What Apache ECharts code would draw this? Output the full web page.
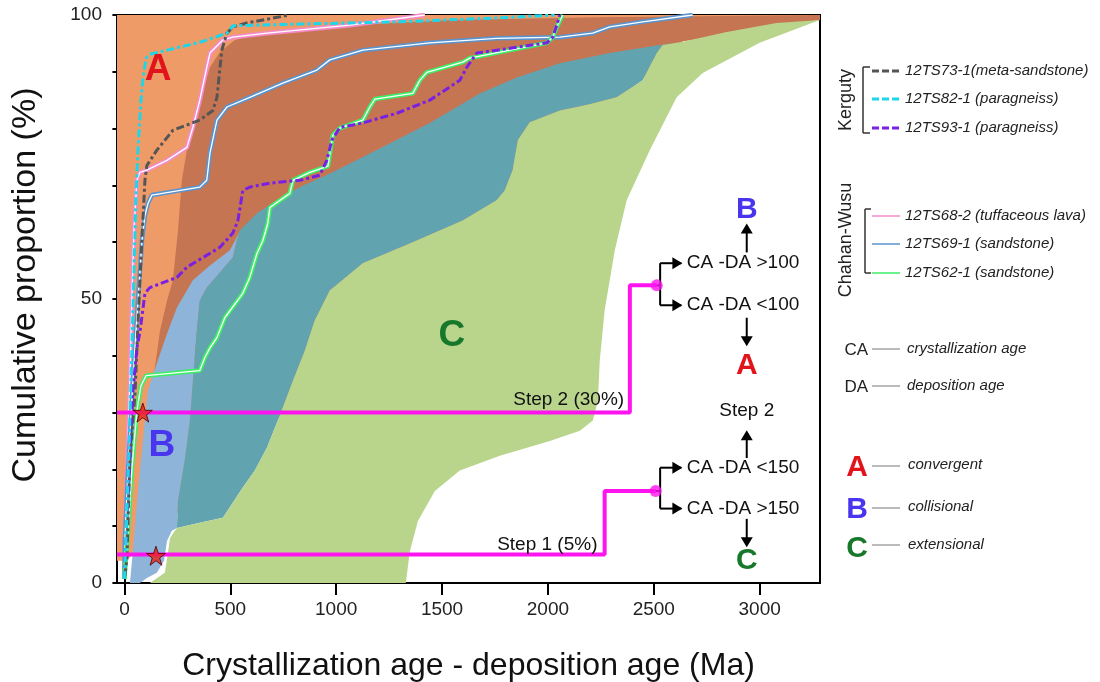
<!DOCTYPE html>
<html><head><meta charset="utf-8">
<script src="https://cdn.jsdelivr.net/npm/echarts@6/dist/echarts.min.js"></script>
<style>html,body{margin:0;padding:0;background:#fff}#c{width:1100px;height:682px}</style>
</head><body><div id="c"></div>
<script>
// ---- axis ticks ----
const xTicks = [0, 500, 1000, 1500, 2000, 2500, 3000];
const yTicks = [0, 10, 20, 30, 40, 50, 60, 70, 80, 90, 100];
const yLabels = [0, 50, 100];

// ---- field outlines [CA-DA (Ma), cumulative %] ----
const fieldA = [[-35,3.9],[-35,100],[3285,100],[3285,99.1],[3000,97.7],[2764,96.1],[2637,95.4],[8,3.9]];
const fieldAB = [[111,33.9],[135,35.6],[168,44.4],[201,49.7],[229,53.3],[253,62.1],[271,70.9],[295,76.2],[333,81.5],[371,86.8],[404,90.8],[451,93.5],[522,95.6],[640,96.8],[1065,98.2],[1537,99.1],[2245,99.6],[3285,100],[3285,99.1],[3000,97.7],[2764,96.1],[2637,95.4],[120,34.2]];
const fieldB = [[26,0],[40,5.6],[64,16.2],[87,25.0],[111,33.9],[158,39.2],[201,43.9],[248,48.5],[323,53.3],[404,55.9],[498,58.6],[545,61.9],[531,60.3],[512,57.3],[389,52.0],[356,49.7],[342,44.4],[323,35.6],[309,28.6],[286,22.0],[253,14.5],[248,9.7],[224,9.2],[201,7.4],[187,3.9],[153,1.8],[106,0.9],[73,0]];
const fieldBC = [[545,62.1],[626,65.1],[720,67.4],[829,69.7],[970,72.1],[1126,75.0],[1442,81.0],[1678,86.2],[1853,89.0],[2056,91.5],[2292,93.3],[2528,94.7],[2623,95.2],[2542,94.7],[2514,93.3],[2448,88.5],[2325,85.5],[2198,84.3],[2056,83.2],[1914,81.1],[1858,78.0],[1834,72.7],[1796,69.1],[1758,67.4],[1598,63.8],[1362,60.0],[1126,56.3],[970,51.5],[899,46.2],[852,40.9],[796,35.6],[734,29.5],[673,23.8],[616,19.8],[559,16.8],[465,11.5],[356,10.6],[248,9.7],[253,14.5],[286,22.0],[309,28.6],[323,35.6],[342,44.4],[356,49.7],[389,52.0],[512,57.3],[531,60.3]];
const fieldC = [[120,0],[191,1.8],[205,5.1],[215,7.9],[238,9.2],[248,9.7],[356,10.6],[465,11.5],[559,16.8],[616,19.8],[673,23.8],[734,29.5],[796,35.6],[852,40.9],[899,46.2],[970,51.5],[1126,56.3],[1362,60.0],[1598,63.8],[1758,67.4],[1796,69.1],[1834,72.7],[1858,78.0],[1914,81.1],[2056,83.2],[2198,84.3],[2325,85.5],[2448,88.5],[2514,93.3],[2542,94.7],[2623,95.2],[2637,95.3],[2844,97.0],[3080,98.6],[3284,99.1],[3000,95.1],[2731,89.8],[2608,85.5],[2481,76.2],[2372,67.4],[2316,58.6],[2268,48.0],[2245,39.2],[2236,32.1],[2212,28.6],[2151,26.8],[2009,25.0],[1773,22.4],[1584,19.8],[1466,16.2],[1386,10.9],[1348,5.6],[1329,0]];

// ---- cumulative curves ----
const s73 = [[2,1.2],[12,4.4],[26,22.0],[50,33.3],[59,41.4],[73,53.3],[97,70.9],[106,73.5],[153,76.2],[229,79.7],[356,81.5],[418,83.2],[437,85.5],[460,93.8],[484,96.8],[512,97.9],[578,98.6],[781,100]];
const s82 = [[0,0.7],[7,7.4],[17,18.0],[26,28.6],[35,41.0],[45,55.0],[54,67.4],[64,76.2],[78,85.0],[87,88.5],[102,92.4],[120,93.1],[168,93.5],[356,95.2],[484,96.8],[512,98.1],[828,98.4],[1301,98.8],[1773,99.5],[2032,100]];
const s93 = [[0,0.7],[7,7.4],[26,22.0],[40,33.9],[59,41.4],[73,44.1],[97,51.0],[120,52.0],[248,53.8],[295,55.6],[371,57.3],[451,59.1],[512,61.6],[536,63.8],[559,69.1],[592,69.7],[687,70.4],[829,70.9],[923,71.8],[956,74.4],[980,78.0],[1018,80.2],[1126,81.0],[1286,82.7],[1442,85.0],[1584,88.5],[1617,90.8],[1664,93.3],[1758,93.8],[1995,95.1],[2023,96.1],[2047,98.8],[2056,100]];
const s68 = [[0,1.1],[2,7.4],[12,19.8],[26,35.6],[35,49.7],[45,62.1],[59,70.9],[73,72.3],[106,72.7],[201,74.4],[295,76.7],[323,80.2],[356,85.0],[389,90.8],[404,93.3],[465,95.6],[512,96.1],[673,96.8],[1065,98.2],[1419,100]];
const s69 = [[0,0.7],[2,7.4],[17,19.8],[40,35.6],[64,49.7],[83,60.3],[97,64.7],[111,66.8],[130,68.3],[356,69.7],[389,70.9],[404,75.7],[437,81.5],[484,83.8],[592,85.5],[748,88.0],[909,90.3],[970,92.1],[1126,93.8],[1442,95.1],[1758,95.9],[2056,96.1],[2212,96.8],[2292,97.9],[2448,98.8],[2684,100]];
const s62 = [[0,0.7],[17,9.2],[35,19.8],[59,30.3],[78,34.7],[102,36.5],[356,37.4],[380,39.7],[404,41.4],[437,43.2],[474,46.7],[559,51.0],[592,53.8],[626,58.0],[654,60.3],[677,63.3],[687,66.1],[781,68.6],[796,70.9],[876,72.3],[961,73.4],[984,78.8],[1018,80.1],[1126,81.5],[1159,83.8],[1183,85.2],[1362,86.2],[1395,88.5],[1428,89.9],[1598,91.7],[1631,92.4],[1995,95.1],[2023,96.1],[2042,97.9],[2070,100]];

// ---- discrimination steps ----
const step1 = [[-35,5],[2268,5],[2268,16.2],[2509,16.2]];
const step2 = [[-35,30],[2387,30],[2387,52.4],[2514,52.4]];
const stepDots = [[2509,16.2],[2514,52.4]];
const stars = [[87,30],[149,4.8]];

const FONT = '"Liberation Sans", Arial, Helvetica, sans-serif';
const COLORS = {A:'#E2141B', B:'#4A35EE', C:'#17782B'};

function field(name, pts, color) {
  return {type:'custom', name, coordinateSystem:'cartesian2d', silent:true, z:1,
    data:[[0,0]],
    renderItem:(p, api) => ({type:'polygon', shape:{points: pts.map(q => api.coord(q))}, style:{fill:color}})};
}
function dashed(name, data, color, dash) {
  return {type:'line', name, data, showSymbol:false, symbol:'none', silent:true, z:4,
    lineStyle:{color, width:3, type:dash}};
}
function doubled(name, data, color) {
  return [
    {type:'line', name, data, showSymbol:false, symbol:'none', silent:true, z:3, lineStyle:{color, width:4.5}},
    {type:'line', name:name+'_in', data, showSymbol:false, symbol:'none', silent:true, z:3, lineStyle:{color:'#fff', width:1.3}}
  ];
}

// annotation diagram (anchored on data coordinates)
const flow = {type:'custom', coordinateSystem:'cartesian2d', silent:true, z:6, data:[[0,0]],
  renderItem:(p, api) => {
    const c = q => api.coord(q);
    const kids = [];
    const ln = (a, b) => { const A = c(a), B = c(b); kids.push({type:'line', shape:{x1:A[0],y1:A[1],x2:B[0],y2:B[1]}, style:{stroke:'#000', lineWidth:2}}); };
    const head = (q, dir) => { const P = c(q); const s = 6, L = 10; let pts;
      if (dir==='r') pts=[[P[0],P[1]],[P[0]-L,P[1]-s],[P[0]-L,P[1]+s]];
      else if (dir==='u') pts=[[P[0],P[1]],[P[0]-s,P[1]+L],[P[0]+s,P[1]+L]];
      else pts=[[P[0],P[1]],[P[0]-s,P[1]-L],[P[0]+s,P[1]-L]];
      kids.push({type:'polygon', shape:{points:pts}, style:{fill:'#000'}}); };
    const tx = (q, text, o) => { const P = c(q); kids.push({type:'text', x:P[0], y:P[1], style:Object.assign({text, fontFamily:FONT, fontSize:19, fill:'#111', align:'left', verticalAlign:'middle'}, o||{})}); };
    // step 2 bracket
    ln([2514,52.4],[2530,52.4]); ln([2530,56.3],[2530,48.9]);
    ln([2530,56.3],[2630,56.3]); head([2635,56.3],'r');
    ln([2530,48.9],[2630,48.9]); head([2635,48.9],'r');
    tx([2656,56.3],'CA -DA >100'); tx([2656,48.9],'CA -DA <100');
    // step 1 bracket
    ln([2509,16.2],[2530,16.2]); ln([2530,20.3],[2530,13.1]);
    ln([2530,20.3],[2630,20.3]); head([2635,20.3],'r');
    ln([2530,13.1],[2630,13.1]); head([2635,13.1],'r');
    tx([2656,20.3],'CA -DA <150'); tx([2656,13.1],'CA -DA >150');
    // vertical arrows
    ln([2939,58.2],[2939,62]); head([2939,63.3],'u');
    ln([2939,46.7],[2939,43]); head([2939,41.7],'d');
    ln([2939,22.0],[2939,25.6]); head([2939,26.9],'u');
    ln([2939,11.3],[2939,7.6]); head([2939,6.3],'d');
    tx([2939,65.8],'B',{align:'center', fontSize:30, fontWeight:'bold', fill:COLORS.B});
    tx([2939,38.2],'A',{align:'center', fontSize:30, fontWeight:'bold', fill:COLORS.A});
    tx([2939,30.3],'Step 2',{align:'center', fontSize:19});
    tx([2939,3.9],'C',{align:'center', fontSize:30, fontWeight:'bold', fill:COLORS.C});
    // step labels
    tx([2360,32.3],'Step 2 (30%)',{align:'right'});
    tx([2234,6.7],'Step 1 (5%)',{align:'right'});
    // field letters
    tx([159,90.3],'A',{align:'center', fontSize:37, fontWeight:'bold', fill:COLORS.A});
    tx([177,24.2],'B',{align:'center', fontSize:37, fontWeight:'bold', fill:COLORS.B});
    tx([1546,43.6],'C',{align:'center', fontSize:37, fontWeight:'bold', fill:COLORS.C});
    return {type:'group', children:kids};
  }};

const STAR = 'path://M50,2 L61.8,36.3 L97.6,36.3 L68.6,57.6 L79.4,92 L50,71 L20.6,92 L31.4,57.6 L2.4,36.3 L38.2,36.3 Z';

const series = [
  field('A', fieldA, '#EF9B68'),
  field('AB', fieldAB, '#C67552'),
  field('B', fieldB, '#8FB4DA'),
  field('BC', fieldBC, '#62A3B0'),
  field('C', fieldC, '#B9D58C'),
  ...doubled('12TS68-2', s68, '#F48BC8'),
  ...doubled('12TS69-1', s69, '#5B93CC'),
  ...doubled('12TS62-1', s62, '#3CEE66'),
  dashed('12TS73-1', s73, '#555555', [8,3,3,3]),
  dashed('12TS93-1', s93, '#7A1FE6', [8,3,3,3]),
  dashed('12TS82-1', s82, '#1ED6EA', [8,3,3,3]),
  {type:'line', name:'step1', data:step1, showSymbol:false, symbol:'none', silent:true, z:5, lineStyle:{color:'#FF14F0', width:4}},
  {type:'line', name:'step2', data:step2, showSymbol:false, symbol:'none', silent:true, z:5, lineStyle:{color:'#FF14F0', width:4}},
  {type:'scatter', name:'dots', data:stepDots, symbolSize:12, silent:true, z:6, itemStyle:{color:'#FF14F0'}},
  {type:'scatter', name:'stars', data:stars, symbol:STAR, symbolSize:19, silent:true, z:7, itemStyle:{color:'#E8231B', borderColor:'#4a0000', borderWidth:1}},
  flow
];

// legend (outside plot)
const g = [];
const gt = (x, y, text, o, rot) => g.push({type:'text', x, y, rotation:rot||0, style:Object.assign({text, fontFamily:FONT, fontSize:15, fontStyle:'italic', fill:'#222', align:'left', verticalAlign:'middle'}, o||{})});
const gl = (x1, y1, x2, y2, stroke, w, dash) => g.push({type:'line', shape:{x1,y1,x2,y2}, style:{stroke, lineWidth:w, lineDash:dash||null}});
gt(846, 100, 'Kerguty', {fontStyle:'normal', fontSize:18, align:'center'}, Math.PI/2);
gl(863,67,863,133,'#333',1.5); gl(863,67,870,67,'#333',1.5); gl(863,133,870,133,'#333',1.5);
gl(872,71,900,71,'#555',3,[7,3]); gt(905,71,'12TS73-1(meta-sandstone)');
gl(872,99,900,99,'#1ED6EA',3,[7,3]); gt(905,99,'12TS82-1 (paragneiss)');
gl(872,128,900,128,'#7A1FE6',3,[7,3]); gt(905,128,'12TS93-1 (paragneiss)');
gt(846, 240, 'Chahan-Wusu', {fontStyle:'normal', fontSize:18, align:'center'}, Math.PI/2);
gl(865,209,865,273,'#333',1.5); gl(865,209,871,209,'#333',1.5); gl(865,273,871,273,'#333',1.5);
gl(872,216,900,216,'#F48BC8',1.5); gt(905,216,'12TS68-2 (tuffaceous lava)');
gl(872,244,900,244,'#5B93CC',1.5); gt(905,244,'12TS69-1 (sandstone)');
gl(872,273,900,273,'#3CEE66',1.5); gt(905,273,'12TS62-1 (sandstone)');
gt(868,350,'CA',{fontStyle:'normal', fontSize:17, align:'right'}); gl(872,349,900,349,'#777',1); gt(907,349,'crystallization age');
gt(868,387,'DA',{fontStyle:'normal', fontSize:17, align:'right'}); gl(872,386,900,386,'#777',1); gt(907,386,'deposition age');
gt(857,468,'A',{fontStyle:'normal', fontWeight:'bold', fontSize:30, align:'center', fill:COLORS.A}); gl(872,466,900,466,'#777',1); gt(908,465,'convergent');
gt(857,510,'B',{fontStyle:'normal', fontWeight:'bold', fontSize:30, align:'center', fill:COLORS.B}); gl(872,508,900,508,'#777',1); gt(908,507,'collisional');
gt(857,549,'C',{fontStyle:'normal', fontWeight:'bold', fontSize:30, align:'center', fill:COLORS.C}); gl(872,545,900,545,'#777',1); gt(908,545,'extensional');

const chart = echarts.init(document.getElementById('c'));
chart.setOption({
  animation:false,
  backgroundColor:'#fff',
  grid:{left:117, top:15, width:703, height:568, outerBoundsMode:'none', containLabel:false, show:true, borderColor:'#000', borderWidth:2, backgroundColor:'transparent'},
  xAxis:{type:'value', min:-35, max:3285,
    axisLine:{show:true, onZero:false, lineStyle:{color:'#000', width:2}},
    axisTick:{show:true, length:12, lineStyle:{color:'#000', width:2}, customValues:xTicks},
    axisLabel:{customValues:xTicks, fontSize:19, margin:17, color:'#222', fontFamily:FONT, formatter:v => String(v)},
    splitLine:{show:false},
    name:'Crystallization age - deposition age (Ma)', nameLocation:'middle', nameGap:67,
    nameTextStyle:{fontSize:32, color:'#111', fontFamily:FONT}},
  yAxis:{type:'value', min:0, max:100, interval:10,
    axisLine:{show:true, lineStyle:{color:'#000', width:2}},
    axisTick:{show:true, length:12, lineStyle:{color:'#000', width:2}, customValues:yTicks},
    axisLabel:{customValues:yLabels, fontSize:19, margin:15, color:'#222', fontFamily:FONT, formatter:v => String(v)},
    splitLine:{show:false},
    name:'Cumulative proportion (%)', nameLocation:'middle', nameGap:74,
    nameTextStyle:{fontSize:34, color:'#111', fontFamily:FONT, padding:[0,0,0,28]}},
  series,
  graphic:g
});
</script></body></html>
